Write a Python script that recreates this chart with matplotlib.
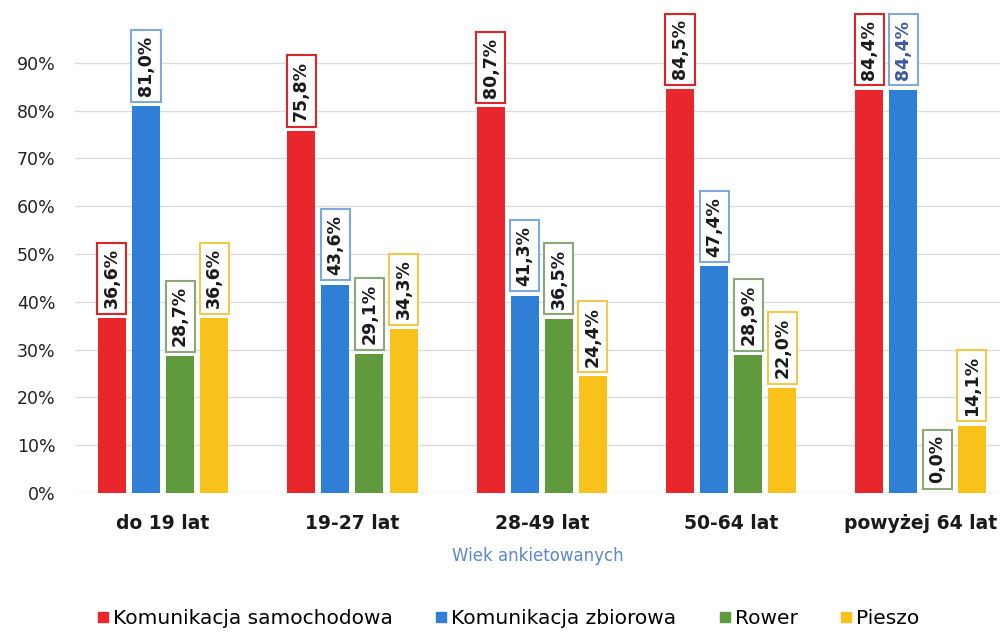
import numpy as np
import matplotlib
matplotlib.use('Agg')
import matplotlib.pyplot as plt
from matplotlib.lines import Line2D

# dane z wykresu
grupy = ['do 19 lat', '19-27 lat', '28-49 lat', '50-64 lat', 'powyżej 64 lat']
serie = ['Komunikacja samochodowa', 'Komunikacja zbiorowa', 'Rower', 'Pieszo']
samochodowa = [36.6, 75.8, 80.7, 84.5, 84.4]
zbiorowa = [81.0, 43.6, 41.3, 47.4, 84.4]
rower = [28.7, 29.1, 36.5, 28.9, 0.0]
pieszo = [36.6, 34.3, 24.4, 22.0, 14.1]
kolory = ['#e8262b', '#2f7fd6', '#5f9a3c', '#f8c21a']
ramki = ['#d9262b', '#7fa9dc', '#8aa878', '#f2c94c']

wartosci = [samochodowa, zbiorowa, rower, pieszo]

plt.rcParams['font.family'] = ['DejaVu Sans']
fig = plt.figure(figsize=(10.06, 6.32), dpi=100)
ax = fig.add_axes([75 / 1006, 139 / 632, 925 / 1006, 478 / 632])

x = np.arange(len(grupy))
szer = 0.148
krok = 0.18
for i, (vals, kol) in enumerate(zip(wartosci, kolory)):
    pos = x + (i - 1.5) * krok
    ax.bar(pos, vals, width=szer, color=kol, zorder=2)
    for j, (p, v) in enumerate(zip(pos, vals)):
        txt = f'{v:.1f}%'.replace('.', ',')
        kol_txt = '#3c5a9a' if (i == 1 and j == 4) else '#1a1a1a'
        ax.annotate(txt, (p, v), xytext=(0, 7), textcoords='offset points',
                    rotation=90, ha='center', va='bottom', fontsize=12.5,
                    fontweight='bold', color=kol_txt, annotation_clip=False,
                    bbox=dict(boxstyle='square,pad=0.32', fc='white',
                              ec=ramki[i], lw=1.5), zorder=3)

ax.set_xlim(-0.465, 4.42)
ax.set_ylim(0, 100)
ax.set_yticks(np.arange(0, 100, 10))
ax.set_yticklabels([f'{t}%' for t in range(0, 100, 10)], fontsize=12.5, color='#222222')
ax.set_xticks(x)
ax.set_xticklabels(grupy, fontsize=13.5, fontweight='bold', color='#1a1a1a')
ax.tick_params(axis='both', length=0)
ax.tick_params(axis='y', pad=14)
ax.tick_params(axis='x', pad=15)
ax.yaxis.grid(True, color='#dcdcdc', lw=1, zorder=0)
for s in ax.spines.values():
    s.set_visible(False)
ax.set_xlabel('Wiek ankietowanych', fontsize=12, color='#5b87cf', labelpad=10)

uchwyty = [Line2D([], [], ls='', marker='s', markersize=7, color=k) for k in kolory]
fig.legend(uchwyty, serie, loc='center', bbox_to_anchor=(0.505, 0.022), ncol=4,
           frameon=False, fontsize=14.5, handlelength=0.6, handletextpad=0.2,
           columnspacing=2.1)

plt.savefig('out.png', dpi=100)
